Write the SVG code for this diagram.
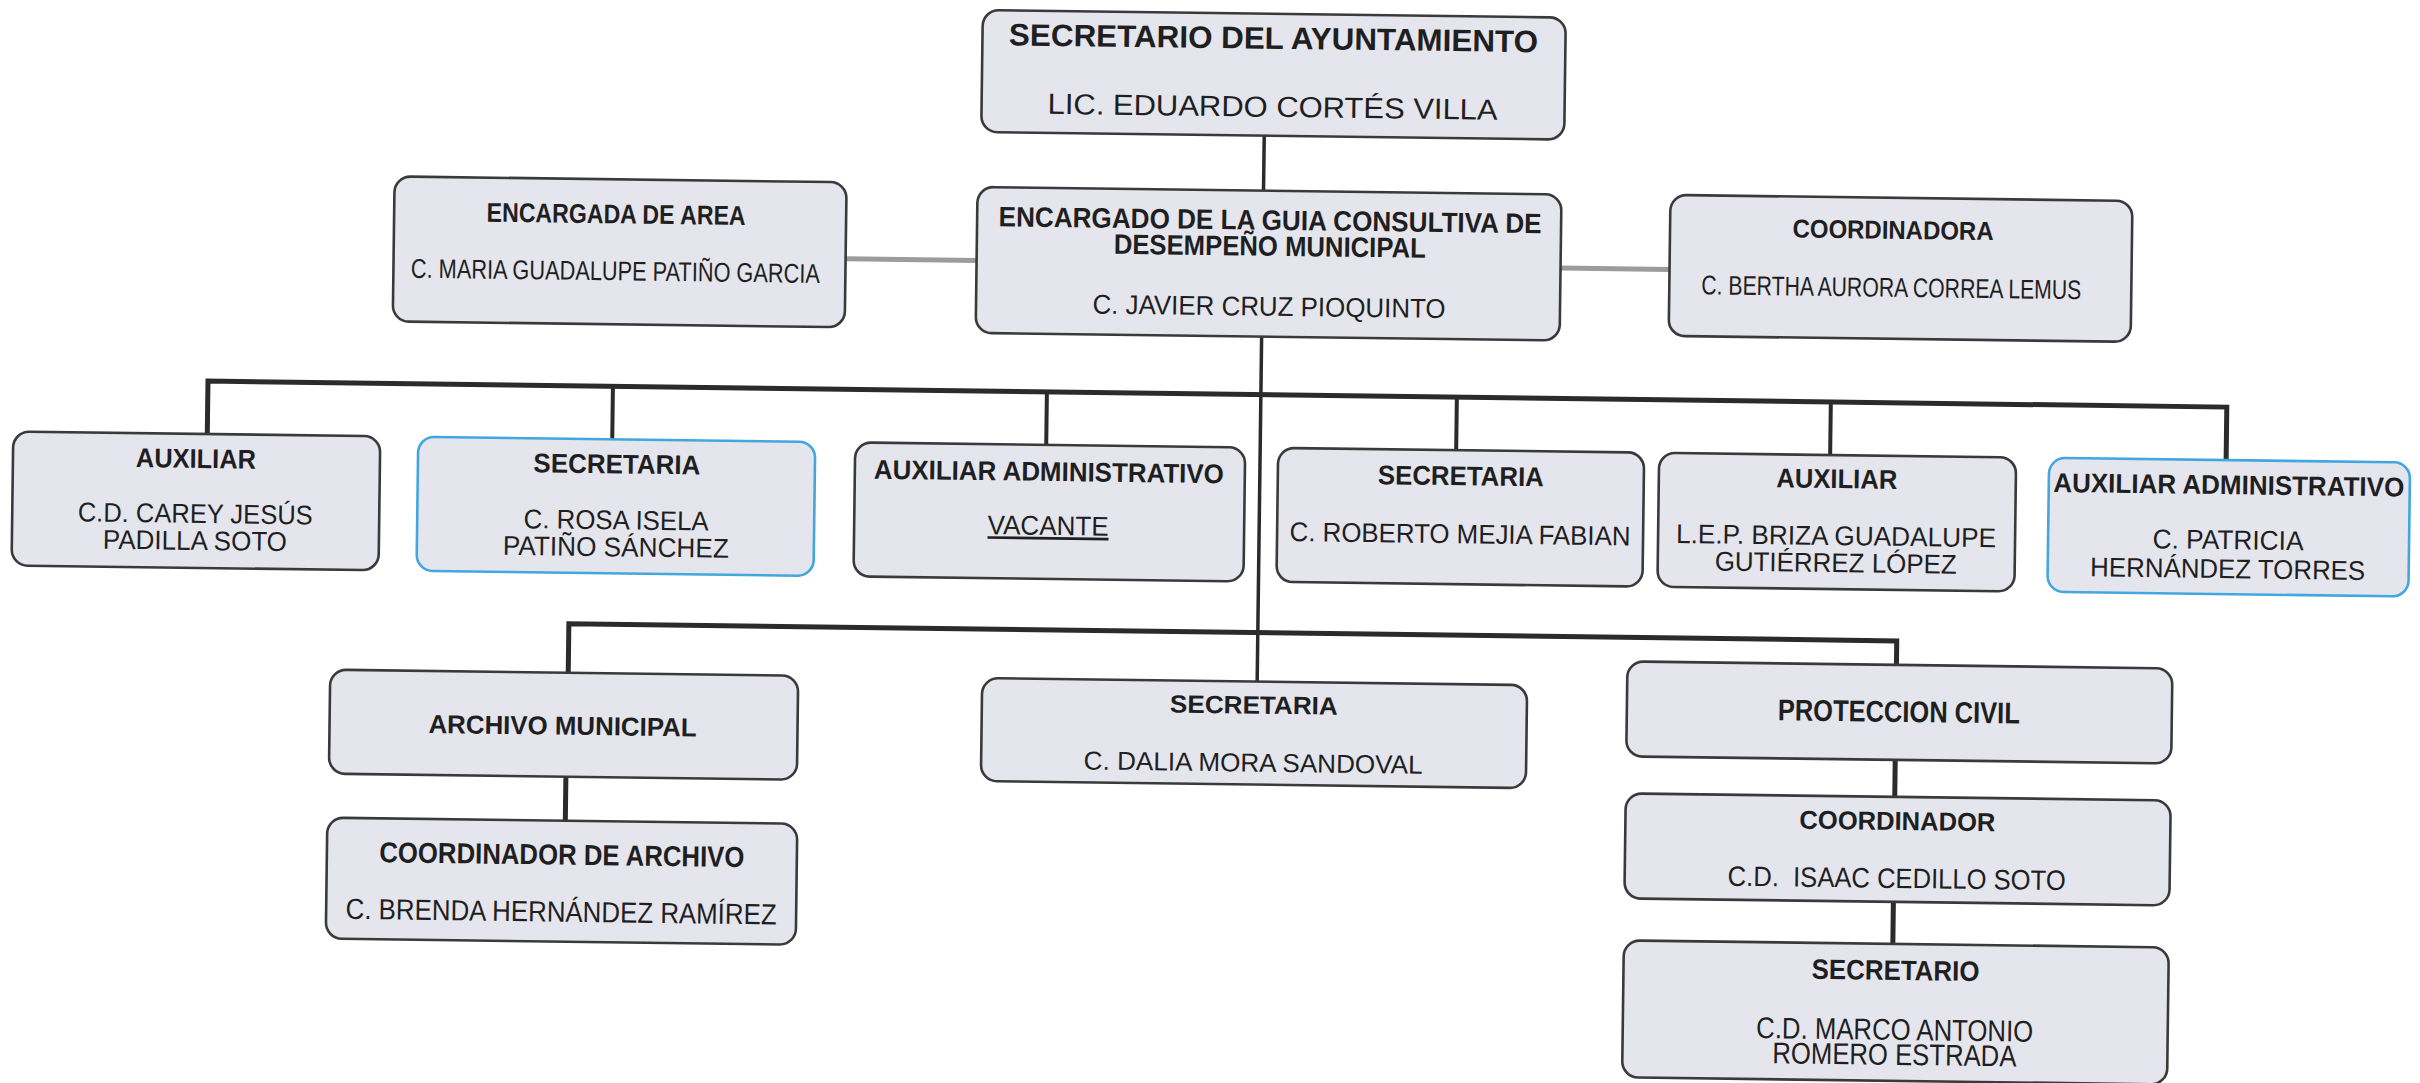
<svg xmlns="http://www.w3.org/2000/svg" width="2420" height="1083" viewBox="0 0 2420 1083">
<style>
.box{fill:#e5e5ee;stroke:#3a3a3a;stroke-width:2.6}
.blue{stroke:#42a7de}
.t{font-family:"Liberation Sans Narrow","Liberation Sans",Arial,sans-serif;fill:#1f1f1f;text-anchor:middle}
.b{font-weight:bold}
.bus{stroke:#2b2b2b;stroke-width:5;fill:none}
.drop{stroke:#2b2b2b;stroke-width:4;fill:none}
.main{stroke:#2b2b2b;stroke-width:3.5;fill:none}
.gray{stroke:#9c9c9c;stroke-width:5;fill:none}
</style>
<rect x="0" y="0" width="2420" height="1083" fill="#ffffff"/>
<g transform="rotate(0.74 1210 540)">
<g id="connectors">
<path class="main" d="M1259 135 V681"/>
<path class="gray" d="M842 263.5 H973"/>
<path class="gray" d="M1557 263.5 H1666"/>
<path class="bus" d="M206 447 V394 H2225 V447"/>
<path class="drop" d="M611 394 V447 M1045 394 V447 M1455 394 V447 M1829 394 V447"/>
<path class="bus" d="M570 681 V632 H1898 V656"/>
<path class="bus" d="M569 785 V829 M1898 751 V788 M1898 893 V935"/>
</g>
<g id="n-secretario-ayuntamiento">
<rect class="box" x="976" y="13" width="583" height="122" rx="16"/>
<text class="t b" x="1267" y="48" font-size="31" textLength="529" lengthAdjust="spacingAndGlyphs">SECRETARIO DEL AYUNTAMIENTO</text>
<text class="t" x="1267" y="116" font-size="29" textLength="450" lengthAdjust="spacingAndGlyphs">LIC. EDUARDO CORTÉS VILLA</text>
</g>
<g id="n-encargado-guia">
<rect class="box" x="973" y="190" width="584" height="146" rx="16"/>
<text class="t b" x="1266" y="229" font-size="28" textLength="543" lengthAdjust="spacingAndGlyphs">ENCARGADO DE LA GUIA CONSULTIVA DE</text>
<text class="t b" x="1266" y="255" font-size="28" textLength="312" lengthAdjust="spacingAndGlyphs">DESEMPEÑO MUNICIPAL</text>
<text class="t" x="1266" y="315" font-size="27" textLength="353" lengthAdjust="spacingAndGlyphs">C. JAVIER CRUZ PIOQUINTO</text>
</g>
<g id="n-encargada-area">
<rect class="box" x="390" y="187" width="452" height="145" rx="16"/>
<text class="t b" x="612" y="231" font-size="27" textLength="259" lengthAdjust="spacingAndGlyphs">ENCARGADA DE AREA</text>
<text class="t" x="612" y="288" font-size="27" textLength="409" lengthAdjust="spacingAndGlyphs">C. MARIA GUADALUPE PATIÑO GARCIA</text>
</g>
<g id="n-coordinadora">
<rect class="box" x="1666" y="189" width="462" height="141" rx="16"/>
<text class="t b" x="1889" y="230" font-size="26" textLength="201" lengthAdjust="spacingAndGlyphs">COORDINADORA</text>
<text class="t" x="1888" y="288" font-size="27" textLength="380" lengthAdjust="spacingAndGlyphs">C. BERTHA AURORA CORREA LEMUS</text>
</g>
<g id="n-auxiliar-carey">
<rect class="box" x="12" y="447" width="367" height="134" rx="16"/>
<text class="t b" x="195" y="481" font-size="27" textLength="120" lengthAdjust="spacingAndGlyphs">AUXILIAR</text>
<text class="t" x="195" y="536" font-size="27" textLength="235" lengthAdjust="spacingAndGlyphs">C.D. CAREY JESÚS</text>
<text class="t" x="195" y="563" font-size="27" textLength="184" lengthAdjust="spacingAndGlyphs">PADILLA SOTO</text>
</g>
<g id="n-secretaria-rosa">
<rect class="box blue" x="417" y="447" width="397" height="134" rx="16"/>
<text class="t b" x="616" y="481" font-size="27" textLength="167" lengthAdjust="spacingAndGlyphs">SECRETARIA</text>
<text class="t" x="616" y="537" font-size="27" textLength="185" lengthAdjust="spacingAndGlyphs">C. ROSA ISELA</text>
<text class="t" x="616" y="564" font-size="27" textLength="226" lengthAdjust="spacingAndGlyphs">PATIÑO SÁNCHEZ</text>
</g>
<g id="n-auxiliar-admin-vacante">
<rect class="box" x="854" y="447" width="390" height="134" rx="16"/>
<text class="t b" x="1048" y="483" font-size="27" textLength="350" lengthAdjust="spacingAndGlyphs">AUXILIAR ADMINISTRATIVO</text>
<text class="t" x="1048" y="537" font-size="27" textLength="121" lengthAdjust="spacingAndGlyphs" text-decoration="underline">VACANTE</text>
</g>
<g id="n-secretaria-roberto">
<rect class="box" x="1277" y="447" width="366" height="134" rx="16"/>
<text class="t b" x="1460" y="482" font-size="27" textLength="166" lengthAdjust="spacingAndGlyphs">SECRETARIA</text>
<text class="t" x="1460" y="540" font-size="27" textLength="341" lengthAdjust="spacingAndGlyphs">C. ROBERTO MEJIA FABIAN</text>
</g>
<g id="n-auxiliar-briza">
<rect class="box" x="1658" y="447" width="357" height="134" rx="16"/>
<text class="t b" x="1836" y="480" font-size="27" textLength="121" lengthAdjust="spacingAndGlyphs">AUXILIAR</text>
<text class="t" x="1836" y="537" font-size="27" textLength="320" lengthAdjust="spacingAndGlyphs">L.E.P. BRIZA GUADALUPE</text>
<text class="t" x="1836" y="564" font-size="27" textLength="242" lengthAdjust="spacingAndGlyphs">GUTIÉRREZ LÓPEZ</text>
</g>
<g id="n-auxiliar-admin-patricia">
<rect class="box blue" x="2048" y="447" width="361" height="134" rx="16"/>
<text class="t b" x="2228" y="481" font-size="27" textLength="351" lengthAdjust="spacingAndGlyphs">AUXILIAR ADMINISTRATIVO</text>
<text class="t" x="2228" y="536" font-size="27" textLength="151" lengthAdjust="spacingAndGlyphs">C. PATRICIA</text>
<text class="t" x="2228" y="565" font-size="27" textLength="275" lengthAdjust="spacingAndGlyphs">HERNÁNDEZ TORRES</text>
</g>
<g id="n-archivo-municipal">
<rect class="box" x="332" y="681" width="468" height="104" rx="16"/>
<text class="t b" x="565" y="743" font-size="26" textLength="268" lengthAdjust="spacingAndGlyphs">ARCHIVO MUNICIPAL</text>
</g>
<g id="n-coordinador-archivo">
<rect class="box" x="331" y="829" width="470" height="121" rx="16"/>
<text class="t b" x="566" y="873" font-size="29" textLength="365" lengthAdjust="spacingAndGlyphs">COORDINADOR DE ARCHIVO</text>
<text class="t" x="566" y="930" font-size="29" textLength="431" lengthAdjust="spacingAndGlyphs">C. BRENDA HERNÁNDEZ RAMÍREZ</text>
</g>
<g id="n-secretaria-dalia">
<rect class="box" x="984" y="681" width="545" height="103" rx="16"/>
<text class="t b" x="1256" y="713" font-size="25" textLength="168" lengthAdjust="spacingAndGlyphs">SECRETARIA</text>
<text class="t" x="1256" y="771" font-size="26" textLength="339" lengthAdjust="spacingAndGlyphs">C. DALIA MORA SANDOVAL</text>
</g>
<g id="n-proteccion-civil">
<rect class="box" x="1629" y="656" width="545" height="95" rx="16"/>
<text class="t b" x="1901" y="713" font-size="30" textLength="242" lengthAdjust="spacingAndGlyphs">PROTECCION CIVIL</text>
</g>
<g id="n-coordinador-pc">
<rect class="box" x="1629" y="788" width="545" height="105" rx="16"/>
<text class="t b" x="1901" y="821" font-size="26" textLength="196" lengthAdjust="spacingAndGlyphs">COORDINADOR</text>
<text class="t" x="1901" y="879" font-size="28" textLength="338" lengthAdjust="spacingAndGlyphs">C.D.&#160; ISAAC CEDILLO SOTO</text>
</g>
<g id="n-secretario-pc">
<rect class="box" x="1629" y="935" width="545" height="137" rx="16"/>
<text class="t b" x="1901" y="971" font-size="28" textLength="168" lengthAdjust="spacingAndGlyphs">SECRETARIO</text>
<text class="t" x="1901" y="1031" font-size="30" textLength="277" lengthAdjust="spacingAndGlyphs">C.D. MARCO ANTONIO</text>
<text class="t" x="1901" y="1056" font-size="30" textLength="244" lengthAdjust="spacingAndGlyphs">ROMERO ESTRADA</text>
</g>
</g>
</svg>
